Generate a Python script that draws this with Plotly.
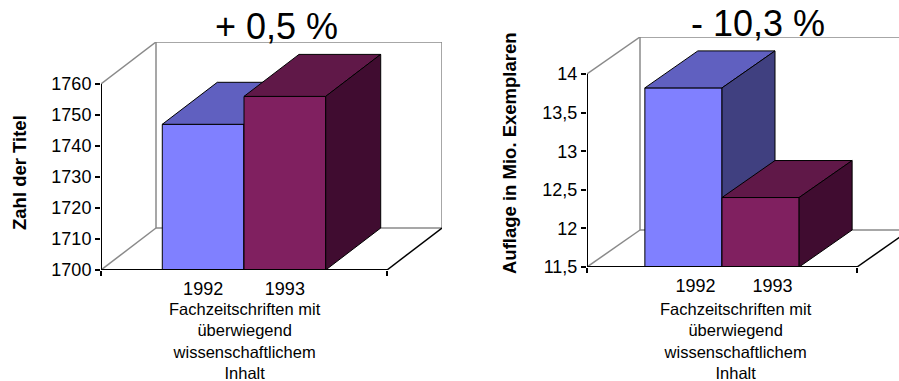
import plotly.graph_objects as go

# ---- data -------------------------------------------------------------
years = ["1992", "1993"]
category = "Fachzeitschriften mit<br>überwiegend<br>wissenschaftlichem<br>Inhalt"

titles_count = [1747, 1756]       # Zahl der Titel
circulation = [13.82, 12.40]      # Auflage in Mio. Exemplaren

change_labels = ["+ 0,5 %", "- 10,3 %"]
y_titles = ["Zahl der Titel", "Auflage in Mio. Exemplaren"]
y_limits = [(1700, 1760), (11.5, 14)]
y_steps = [10, 0.5]

# ---- style ------------------------------------------------------------
FRONT = ["#8080ff", "#802060"]
TOP = ["#6060c0", "#601848"]
SIDE = ["#404080", "#400c30"]
WALL = "#8a8a8a"
FONT = "Liberation Sans, Arial, sans-serif"
W, H = 899, 381
GAP = 1.5  # gap width relative to one bar

# pixel layout of each panel: front plane edges, depth offset of the 3-D box
panels = [
    dict(left=101, right=387, base=270, top=84, ddx=55, ddy=42, clip=None,
         title_xy=(276, 27), ytitle_xy=(19, 173), cat_x=245, label_shift=0),
    dict(left=587, right=857, base=267, top=74, ddx=53, ddy=37, clip=899,
         title_xy=(758, 23), ytitle_xy=(510, 153), cat_x=736, label_shift=12),
]
series = [titles_count, circulation]

n = len(years)
bw = 1.0 / (n + GAP)
bar_left = [GAP * bw / 2 + i * bw for i in range(n)]
bar_mid = [b + bw / 2 for b in bar_left]

fig = go.Figure()
annotations = []


def fmt(v):
    return f"{v:g}".replace(".", ",")


for p, (spec, vals) in enumerate(zip(panels, series)):
    xa = "x" if p == 0 else f"x{p + 1}"
    ya = "y" if p == 0 else f"y{p + 1}"
    ymin, ymax = y_limits[p]

    ux = spec["right"] - spec["left"]                 # px per x unit
    uy = (spec["base"] - spec["top"]) / (ymax - ymin)  # px per y unit
    dx = spec["ddx"] / ux
    dy = spec["ddy"] / uy
    xend_px = spec["right"] + spec["ddx"]
    if spec["clip"] is not None:
        xend_px = min(xend_px, spec["clip"])
    xr = [0, (xend_px - spec["left"]) / ux]
    yr = [ymin, ymax + dy]
    dom_x = [spec["left"] / W, xend_px / W]
    dom_y = [1 - spec["base"] / H, 1 - (spec["top"] - spec["ddy"]) / H]

    def line(xs, ys, color, width, z):
        fig.add_trace(go.Scatter(
            x=xs, y=ys, xaxis=xa, yaxis=ya, mode="lines",
            line=dict(color=color, width=width), hoverinfo="skip",
            showlegend=False, cliponaxis=False, zorder=z))

    # walls of the 3-D box
    line([dx, dx, 1 + dx, 1 + dx, dx], [ymin + dy, ymax + dy, ymax + dy, ymin + dy, ymin + dy],
         WALL, 1.5, 0)
    line([0, dx], [ymax, ymax + dy], WALL, 1.5, 0)
    line([0, dx], [ymin, ymin + dy], WALL, 1.5, 0)

    # bars: front face via bar trace, top and side faces as polygons
    for i, v in enumerate(vals):
        x0, x1 = bar_left[i], bar_left[i] + bw
        fig.add_trace(go.Bar(
            x=[bar_mid[i]], y=[v], width=[bw], xaxis=xa, yaxis=ya,
            marker=dict(color=FRONT[i], line=dict(color="black", width=1)),
            showlegend=False, hoverinfo="skip", zorder=1 + 2 * i))
        fig.add_trace(go.Scatter(
            x=[x0, x1, x1 + dx, x0 + dx, x0], y=[v, v, v + dy, v + dy, v],
            xaxis=xa, yaxis=ya, mode="lines", fill="toself", fillcolor=TOP[i],
            line=dict(color="black", width=1), showlegend=False,
            hoverinfo="skip", zorder=2 + 2 * i))
        fig.add_trace(go.Scatter(
            x=[x1, x1, x1 + dx, x1 + dx, x1], y=[ymin, v, v + dy, ymin + dy, ymin],
            xaxis=xa, yaxis=ya, mode="lines", fill="toself", fillcolor=SIDE[i],
            line=dict(color="black", width=1), showlegend=False,
            hoverinfo="skip", zorder=2 + 2 * i))

    # value axis and floor edges
    line([0, 0], [ymin, ymax], "black", 2, 20)
    line([0, 1], [ymin, ymin], "black", 2, 20)
    line([1, 1 + dx], [ymin, ymin + dy], "black", 1.5, 20)

    ticks = []
    t = ymin
    while t <= ymax + 1e-9:
        ticks.append(round(t, 6))
        t += y_steps[p]

    fig.update_layout({
        f"xaxis{'' if p == 0 else p + 1}": dict(
            domain=dom_x, range=xr, anchor=ya, showgrid=False, zeroline=False,
            showline=False, tickmode="array", tickvals=bar_mid, ticktext=years,
            ticks="", ticklabelshift=spec["label_shift"], ticklabelstandoff=6,
            tickfont=dict(family=FONT, size=18, color="black"),
            minor=dict(tickmode="array", tickvals=[0, 1], ticks="outside",
                       ticklen=5, tickwidth=1.5, tickcolor="black"),
            automargin=False, fixedrange=True),
        f"yaxis{'' if p == 0 else p + 1}": dict(
            domain=dom_y, range=yr, anchor=xa, showgrid=False, zeroline=False,
            showline=False, tickmode="array", tickvals=ticks,
            ticktext=[fmt(v) for v in ticks], ticks="outside", ticklen=5,
            tickwidth=1.5, tickcolor="black",
            tickfont=dict(family=FONT, size=18, color="black"),
            automargin=False, fixedrange=True),
    })

    tx, ty = spec["title_xy"]
    annotations.append(dict(
        text=change_labels[p], x=tx / W, y=1 - ty / H, xref="paper", yref="paper",
        xanchor="center", yanchor="middle", showarrow=False,
        font=dict(family=FONT, size=36, color="black")))
    yx, yy = spec["ytitle_xy"]
    annotations.append(dict(
        text=f"<b>{y_titles[p]}</b>", x=yx / W, y=1 - yy / H, xref="paper",
        yref="paper", xanchor="center", yanchor="middle", textangle=-90,
        showarrow=False, font=dict(family=FONT, size=18.5, color="black")))
    annotations.append(dict(
        text=category, x=spec["cat_x"] / W, y=1 - 341 / H, xref="paper",
        yref="paper", xanchor="center", yanchor="middle", showarrow=False,
        font=dict(family=FONT, size=16.5, color="black")))

fig.update_layout(
    width=W, height=H,
    margin=dict(l=0, r=0, t=0, b=0, pad=0, autoexpand=False),
    paper_bgcolor="white", plot_bgcolor="white", barmode="overlay",
    showlegend=False, annotations=annotations,
)

fig.write_html("out.html", config={"displayModeBar": False})
